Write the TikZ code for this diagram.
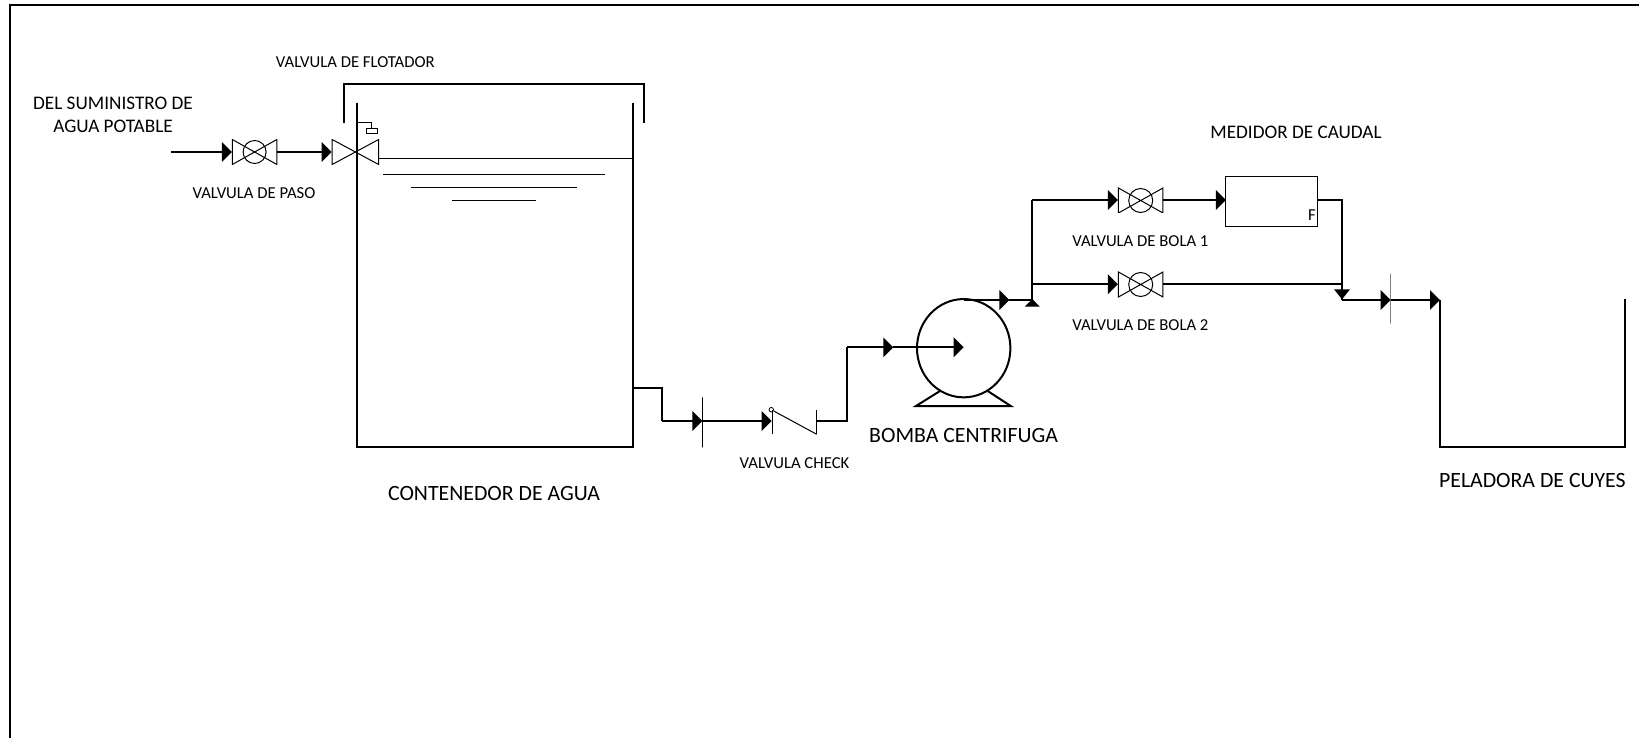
\documentclass[tikz,border=0pt]{standalone}
\usepackage{fontspec}
\setmainfont{Carlito}
\usetikzlibrary{arrows.meta,shapes.geometric}
\tikzset{
  pipe/.style={line width=2pt},
  flow/.style={pipe, -{Triangle[length=10pt,width=19.5pt]}},
  thinline/.style={line width=1pt},
  lbl/.style={font=\fontsize{16.7}{23}\selectfont, inner sep=0pt},
  medlbl/.style={font=\fontsize{19.2}{23}\selectfont, inner sep=0pt},
  biglbl/.style={font=\fontsize{21.8}{26}\selectfont, inner sep=0pt},
  valvebody/.style={minimum width=#1, minimum height=25pt, inner sep=0pt, outer sep=0pt,
    path picture={
      \draw[thinline] ([xshift=.5pt]path picture bounding box.south west)
        -- ([xshift=-.5pt]path picture bounding box.north east)
        -- ([xshift=-.5pt]path picture bounding box.south east)
        -- ([xshift=.5pt]path picture bounding box.north west) -- cycle;
    }},
  tickbar/.style={draw, line width=1pt, minimum width=0pt, minimum height=50pt, inner sep=0pt, outer sep=0pt},
}
\begin{document}
\begin{tikzpicture}[x=1pt, y=-1pt]
  \useasboundingbox (0,0) rectangle (1639,738);
  \draw[pipe] (10,738) -- (10,5.5) -- (1639,5.5);
  % contenedor
  \draw[pipe] (356.5,102.7) -- (356.5,447.3) -- (633.3,447.3) -- (633.3,102.7);
  \draw[pipe] (344,122.7) -- (344,83.6) -- (644,83.6) -- (644,122.7);
  \draw[thinline] (379,159) -- (633.3,159);
  \draw[thinline] (383,174.3) -- (605,174.3);
  \draw[thinline] (411,187.3) -- (577,187.3);
  \draw[thinline] (452,200.3) -- (536,200.3);
  \draw[thinline] (356.5,122.7) -- (371,122.7) -- (371,128.3);
  \node[draw, line width=1pt, minimum width=11pt, minimum height=5pt, inner sep=0pt] (flt) at (371.8,130.8) {};
  % valvulas
  \coordinate (ini) at (170.5,152);
  \node[valvebody=45.5pt] (vpaso) at (254.6,152) {};
  \node[draw, circle, thinline, minimum size=23pt, inner sep=0pt] at (vpaso.center) {};
  \node[valvebody=47.5pt] (vflot) at (355.4,152) {};
  \draw[flow] (ini) -- (vpaso.west);
  \draw[flow] (vpaso.east) -- (vflot.west);
  % salida y check
  \coordinate (sal) at (633.3,388.3);
  \coordinate (sala) at (662,388.3);
  \coordinate (salb) at (662,421);
  \node[tickbar] (tka) at (702.3,422.3) {};
  \coordinate (chka) at (771.7,421);
  \coordinate (chkb) at (816.7,421);
  \coordinate (bajo) at (847.3,421);
  \coordinate (alto) at (847.3,347.3);
  \coordinate (mid) at (893.3,347.3);
  \draw[pipe] (sal) -- (sala) -- (salb);
  \draw[flow] (salb) -- (salb -| tka.center);
  \draw[flow] (salb -| tka.center) -- (chka);
  \draw[thinline] (772,410) -- (772,434.3);
  \draw[thinline] (816.7,410) -- (816.7,434.3);
  \draw[thinline] (773.7,411) -- (816.7,434.3);
  \node[draw, circle, line width=0.8pt, minimum size=4.5pt, inner sep=0pt] (chkc) at (771.3,409.7) {};
  \draw[pipe] (chkb) -- (bajo) -- (alto);
  \draw[flow] (alto) -- (mid);
  % bomba
  \node[draw, ellipse, pipe, minimum width=93.4pt, minimum height=98.3pt, inner sep=0pt] (pump) at (963.7,348.2) {};
  \draw[flow] (mid) -- (mid -| pump.center);
  \draw[pipe] (940,391) -- (916,406) -- (1010.7,406) -- (987.7,391);
  % ramales
  \coordinate (pout) at (963.7,300);
  \coordinate (mida) at (1009.3,300);
  \coordinate (jn) at (1032.3,300);
  \coordinate (jsup) at (1032.3,200);
  \coordinate (jmed) at (1032.3,284.3);
  \node[valvebody=45.5pt] (vbola) at (1140.7,200.5) {};
  \node[valvebody=45.5pt] (vbolb) at (1140.7,284.5) {};
  \foreach \vv in {vbola,vbolb}{
    \node[draw, circle, thinline, minimum size=24pt, inner sep=0pt] at (\vv.center) {};
  }
  \node[draw, thinline, minimum width=91.7pt, minimum height=50pt, inner sep=0pt, outer sep=0pt] (med) at (1271.8,201.3) {};
  \coordinate (mede) at (med.east |- jsup);
  \coordinate (meds) at (med.west |- jsup);
  \coordinate (ret) at (1342,200);
  \coordinate (rmed) at (1342,284.3);
  \coordinate (rinf) at (1342,300);
  \node[tickbar, draw=gray] (tkb) at (1390.7,298.7) {};
  \coordinate (pel) at (1440,300);
  \draw[flow] (pout) -- (mida);
  \draw[pipe] (mida) -- (jn) -- (jsup);
  \draw[flow] (jsup) -- (jsup -| vbola.west);
  \draw[flow] (jmed) -- (jmed -| vbolb.west);
  \draw[flow] (jsup -| vbola.east) -- (meds);
  \draw[pipe] (mede) -- (ret) -- (rinf);
  \draw[pipe] (jmed -| vbolb.east) -- (rmed);
  \draw[flow] (rinf) -- (rinf -| tkb.center);
  \draw[flow] (rinf -| tkb.center) -- (pel);
  \fill (jn) ++(-7.5,6.7) -- ++(15,0) -- ++(-7.5,-7.7) -- cycle;
  \fill (rinf) ++(-8,-10.7) -- ++(16,0) -- ++(-8,10) -- cycle;
  % peladora
  \draw[pipe] (pel) -- (1440,447.3) -- (1625.3,447.3) -- (1625.3,299.3);
  % textos
  \node[lbl] (tflot) at (355.4,61.7) {VALVULA DE FLOTADOR};
  \node[medlbl, align=center] (tsum) at (113,115) {DEL SUMINISTRO DE\\AGUA POTABLE};
  \node[lbl] (tpaso) at (254,193.4) {VALVULA DE PASO};
  \node[biglbl] (tcont) at (494,493.4) {CONTENEDOR DE AGUA};
  \node[lbl] (tchk) at (794.5,463) {VALVULA CHECK};
  \node[biglbl] (tbom) at (963.6,436) {BOMBA CENTRIFUGA};
  \node[medlbl] (tmed) at (1296,132.8) {MEDIDOR DE CAUDAL};
  \node[lbl] (tba) at (1140.4,241.5) {VALVULA DE BOLA 1};
  \node[lbl] (tbb) at (1140.4,325) {VALVULA DE BOLA 2};
  \node[biglbl] (tpel) at (1532.4,481) {PELADORA DE CUYES};
  \node[lbl] (tf) at (1312,215) {F};
\end{tikzpicture}
\end{document}
